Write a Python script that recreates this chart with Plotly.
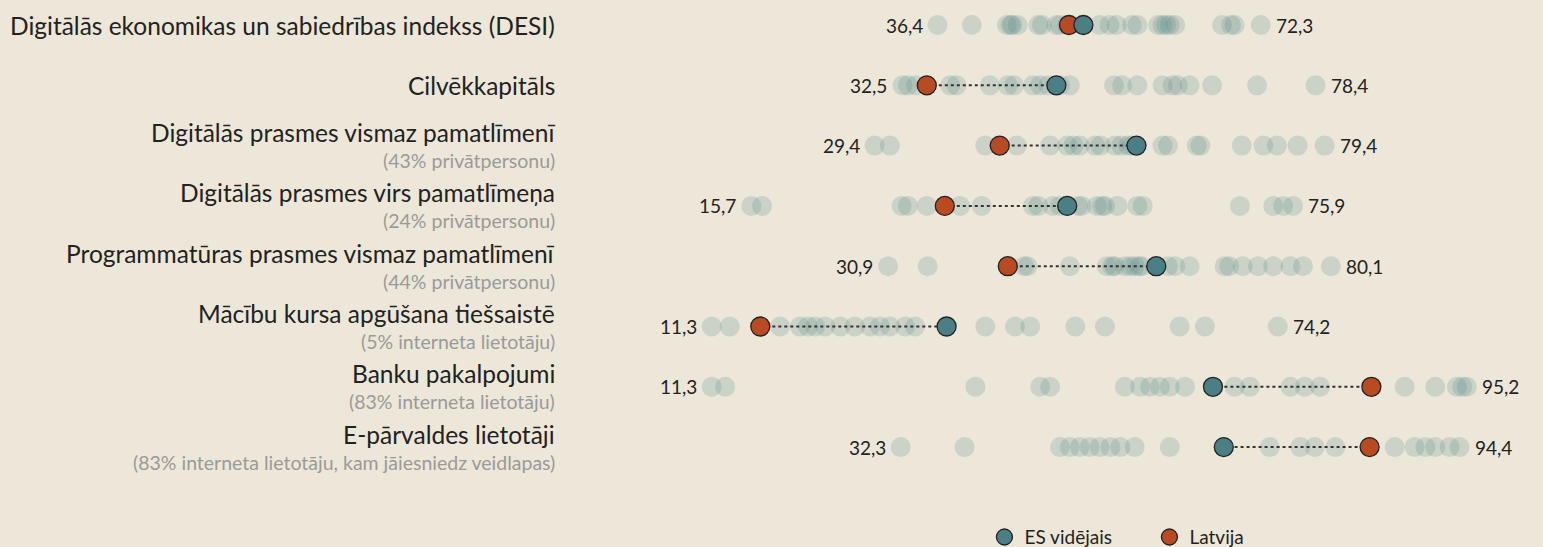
import plotly.graph_objects as go


# ==========================================================
# DATA
# ==========================================================

row_titles = [
    "Digitālās ekonomikas un sabiedrības indekss (DESI)",
    "Cilvēkkapitāls",
    "Digitālās prasmes vismaz pamatlīmenī",
    "Digitālās prasmes virs pamatlīmeņa",
    "Programmatūras prasmes vismaz pamatlīmenī",
    "Mācību kursa apgūšana tiešsaistē",
    "Banku pakalpojumi",
    "E-pārvaldes lietotāji",
]

row_notes = [
    "",
    "",
    "(43% privātpersonu)",
    "(24% privātpersonu)",
    "(44% privātpersonu)",
    "(5% interneta lietotāju)",
    "(83% interneta lietotāju)",
    "(83% interneta lietotāju, kam jāiesniedz veidlapas)",
]

row_min = [36.4, 32.5, 29.4, 15.7, 30.9, 11.3, 11.3, 32.3]
row_max = [72.3, 78.4, 79.4, 75.9, 80.1, 74.2, 95.2, 94.4]

eu_avg = [52.6, 49.6, 58.5, 50.8, 60.7, 37.4, 67.0, 68.2]
latvia = [51.0, 35.2, 43.3, 37.2, 44.2, 16.7, 84.6, 84.4]

# other member states, per row
countries = [
    [36.4, 40.2, 44.1, 44.5, 44.7, 45.3, 47.6, 48.0, 49.6, 50.0, 50.8, 54.4,
     55.5, 56.3, 58.0, 58.6, 60.9, 61.4, 61.8, 62.2, 62.8, 68.0, 69.0, 69.4, 72.3],
    [32.5, 33.1, 34.0, 37.8, 38.5, 42.2, 44.2, 44.9, 47.0, 47.8, 48.7, 50.0,
     51.1, 56.0, 56.9, 58.6, 61.4, 62.5, 63.1, 64.4, 66.9, 71.9, 78.4],
    [29.4, 31.1, 41.7, 45.2, 48.9, 50.8, 51.5, 52.2, 53.9, 54.5, 56.1, 56.8,
     57.6, 58.0, 61.4, 62.0, 65.2, 65.6, 70.2, 72.6, 74.1, 76.4, 79.4],
    [15.7, 16.9, 32.4, 33.1, 35.2, 38.9, 41.3, 47.0, 47.6, 49.2, 50.0, 52.0,
     52.4, 54.1, 54.7, 55.0, 56.4, 58.6, 59.2, 70.0, 73.7, 74.8, 75.9],
    [30.9, 35.3, 46.0, 46.4, 51.1, 55.2, 55.8, 56.1, 57.2, 57.8, 58.3, 58.8,
     59.1, 62.0, 62.8, 64.4, 68.3, 68.8, 70.3, 72.0, 73.7, 75.6, 77.0, 80.1],
    [11.3, 13.3, 18.9, 21.1, 22.0, 22.8, 23.9, 25.6, 27.2, 28.9, 30.0, 31.1,
     32.8, 33.9, 41.7, 45.0, 46.7, 51.7, 55.0, 63.3, 66.1, 74.2],
    [11.3, 12.8, 40.6, 47.8, 48.9, 57.2, 58.9, 60.0, 61.1, 62.2, 63.9, 69.4,
     71.1, 75.6, 77.2, 78.9, 88.3, 91.7, 94.1, 94.7, 95.2],
    [32.3, 39.4, 50.0, 51.1, 52.2, 53.3, 54.4, 55.6, 56.7, 58.3, 62.2, 73.3,
     76.7, 78.3, 80.6, 87.2, 89.4, 90.6, 91.7, 93.3, 94.4],
]

BG = "#ECE7D9"
EU_COLOR = "#4A7F86"
LV_COLOR = "#B94A22"
FONT = "Lato"


def fmt(v):
    return f"{v:.1f}".replace(".", ",")


# ==========================================================
# FIGURE
# ==========================================================

rows = list(range(len(row_titles)))

cx, cy = [], []
for i, vals in enumerate(countries):
    cx += vals
    cy += [i] * len(vals)

fig = go.Figure()

fig.add_trace(
    go.Scatter(
        x=cx,
        y=cy,
        mode="markers",
        marker=dict(size=20, color="rgba(88,135,135,0.22)", line=dict(width=0)),
        showlegend=False,
        hoverinfo="skip",
    )
)

for i in rows:
    fig.add_trace(
        go.Scatter(
            x=[latvia[i], eu_avg[i]],
            y=[i, i],
            mode="lines",
            line=dict(color="#333333", width=2, dash="dot"),
            showlegend=False,
            hoverinfo="skip",
        )
    )

fig.add_trace(
    go.Scatter(
        x=latvia,
        y=rows,
        mode="markers",
        name="Latvija",
        legendrank=2,
        marker=dict(size=19, color=LV_COLOR, line=dict(color="#222222", width=1.3)),
    )
)

fig.add_trace(
    go.Scatter(
        x=eu_avg,
        y=rows,
        mode="markers",
        name="ES vidējais",
        legendrank=1,
        marker=dict(size=19, color=EU_COLOR, line=dict(color="#222222", width=1.3)),
    )
)

annotations = []
for i in rows:
    has_note = bool(row_notes[i])
    annotations.append(dict(
        x=0.361, xref="paper", y=i, yref="y",
        text=row_titles[i], showarrow=False,
        xanchor="right", yanchor="middle",
        yshift=13 if has_note else 0,
        font=dict(family=FONT, size=24.5, color="#222222"),
    ))
    if has_note:
        annotations.append(dict(
            x=0.361, xref="paper", y=i, yref="y",
            text=row_notes[i], showarrow=False,
            xanchor="right", yanchor="middle",
            yshift=-15,
            font=dict(family=FONT, size=19.5, color="#9A9A9A"),
        ))
    annotations.append(dict(
        x=row_min[i], y=i, text=fmt(row_min[i]), showarrow=False,
        xanchor="right", yanchor="middle", xshift=-13,
        font=dict(family=FONT, size=19, color="#222222"),
    ))
    annotations.append(dict(
        x=row_max[i], y=i, text=fmt(row_max[i]), showarrow=False,
        xanchor="left", yanchor="middle", xshift=13,
        font=dict(family=FONT, size=19, color="#222222"),
    ))

fig.update_layout(
    width=1543,
    height=547,
    paper_bgcolor=BG,
    plot_bgcolor=BG,
    margin=dict(l=0, r=0, t=0, b=0, autoexpand=False),
    font=dict(family=FONT, color="#222222"),
    xaxis=dict(range=[-67.78, 103.67], visible=False, fixedrange=True),
    yaxis=dict(range=[8.657, -0.415], visible=False, fixedrange=True),
    annotations=annotations,
    legend=dict(
        orientation="h",
        x=0.638, y=0.018,
        xanchor="left", yanchor="middle",
        bgcolor="rgba(0,0,0,0)",
        font=dict(family=FONT, size=19, color="#222222"),
        entrywidth=120,
        entrywidthmode="pixels",
    ),
)

fig.write_html(
    "out.html",
    config={"displayModeBar": False},
    post_script="document.body.style.margin='0';",
)
